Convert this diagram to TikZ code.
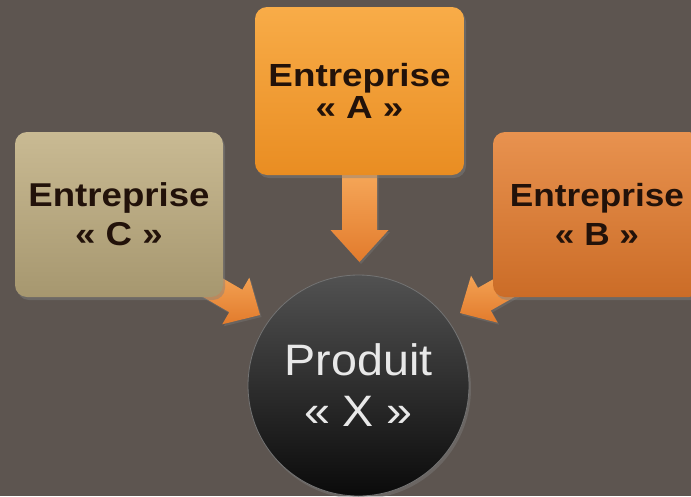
\documentclass[tikz,border=0pt]{standalone}
\usepackage{fontspec}
\setmainfont{Liberation Sans}
\usetikzlibrary{calc,shadows}
\definecolor{bgcol}{HTML}{5D5550}
\definecolor{txtdark}{HTML}{22120A}
\definecolor{aTop}{HTML}{F8AC48}
\definecolor{aBot}{HTML}{E98D22}
\definecolor{bTop}{HTML}{E8924F}
\definecolor{bBot}{HTML}{CB6C27}
\definecolor{cTop}{HTML}{C9BA93}
\definecolor{cBot}{HTML}{A6976F}
\definecolor{arTop}{HTML}{F6A85A}
\definecolor{arBot}{HTML}{E27B2C}
\definecolor{prodtxt}{HTML}{E8E8E8}
\newcommand{\blkarrow}[5]{% start, tip, shaft half width, head half width, head length
  \coordinate (#2h) at ($(#2)!#5!(#1)$);
  \path[arrowbody] ($(#1)!#3!90:(#2)$) -- ($(#2h)!#3!90:(#2)$) -- ($(#2h)!#4!90:(#2)$)
     -- (#2) -- ($(#2h)!#4!-90:(#2)$) -- ($(#2h)!#3!-90:(#2)$) -- ($(#1)!#3!-90:(#2)$) -- cycle;
}
\tikzset{
  box/.style={rectangle, rounded corners=12pt, inner sep=0pt, align=center, text=txtdark,
    drop shadow={opacity=0.45, shadow xshift=2pt, shadow yshift=-3pt}},
  arrowbody/.style={top color=arTop, bottom color=arBot, draw=none,
    drop shadow={opacity=0.35, shadow xshift=1.5pt, shadow yshift=-2pt}},
}
\begin{document}
\begin{tikzpicture}[x=1pt,y=-1pt]
  \path[use as bounding box] (0,0) rectangle (691,496);
  \clip (0,0) rectangle (691,496);
  \fill[bgcol] (0,0) rectangle (691,496);

  % arrow coordinates
  \coordinate (sA) at (359.5,170);
  \coordinate (tA) at (359.5,262);
  \coordinate (sC) at (198,279);
  \coordinate (tC) at (260,315);
  \coordinate (sB) at (520,279);
  \coordinate (tB) at (460,313);

  \blkarrow{sA}{tA}{17.5pt}{29pt}{32pt}
  \blkarrow{sC}{tC}{13pt}{27pt}{28pt}
  \blkarrow{sB}{tB}{13pt}{27pt}{28pt}

  % boxes
  \node[box, minimum width=209pt, minimum height=168pt, top color=aTop, bottom color=aBot,
        font={\fontsize{32}{32}\selectfont\bfseries}]
    (A) at (359.5,91) {\scalebox{1.15}[1]{Entreprise}\\\scalebox{1.15}[1]{« A »}};
  \node[box, minimum width=208pt, minimum height=165pt, top color=cTop, bottom color=cBot,
        font={\fontsize{33}{39}\selectfont\bfseries}]
    (C) at (119,214.5) {\scalebox{1.11}[1]{Entreprise}\\\scalebox{1.11}[1]{« C »}};
  \node[box, minimum width=208pt, minimum height=165pt, top color=bTop, bottom color=bBot,
        font={\fontsize{32}{39}\selectfont\bfseries}]
    (B) at (597,214.5) {\scalebox{1.1}[1]{Entreprise}\\\scalebox{1.1}[1]{« B »}};

  % product circle
  \node[circle, minimum size=221pt, inner sep=0pt, top color=black!68, bottom color=black!96,
        draw=black!55, line width=0.8pt, text=prodtxt, align=center,
        drop shadow={opacity=0.4, shadow xshift=2pt, shadow yshift=-3pt},
        font={\fontsize{44}{51}\selectfont}]
    (X) at (358.5,385.5) {\scalebox{1.06}[1]{Produit}\\\scalebox{1.06}[1]{« X »}};
\end{tikzpicture}
\end{document}
